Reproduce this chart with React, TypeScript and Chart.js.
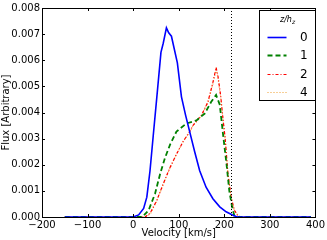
import React, { useEffect, useRef } from "react";
import { Chart, registerables } from "chart.js";

Chart.register(...registerables);

// ---- data ----
const v0 = [-150, 0, 12, 23, 30, 37, 44, 52, 61, 66, 73, 78, 84, 97, 106, 115, 124, 135, 146, 160, 175, 190, 204, 218, 228, 390];
const f0 = [0, 0, 0.00008, 0.00033, 0.00076, 0.00177, 0.0031, 0.0046, 0.0063, 0.00665, 0.00724, 0.00705, 0.00692, 0.0059, 0.0046, 0.0039, 0.00327, 0.0025, 0.00177, 0.00114, 0.0007, 0.00039, 0.0002, 0.00008, 0, 0];

const v1 = [-150, 10, 20, 34, 48, 59, 70, 81, 95, 117, 139, 157, 171, 182, 190, 197, 205, 211, 217, 222, 230, 390];
const f1 = [0, 0, 0, 0.00026, 0.00089, 0.00164, 0.00227, 0.00277, 0.00327, 0.00358, 0.0037, 0.00396, 0.0044, 0.00467, 0.0043, 0.0032, 0.002, 0.001, 0.00039, 0.00005, 0, 0];

const v2 = [-150, 15, 26, 37, 52, 66, 81, 95, 110, 124, 131, 150, 164, 175, 182, 186, 192, 197, 202, 208, 215, 222, 229, 235, 390];
const f2 = [0, 0, 0, 0.00014, 0.00064, 0.00127, 0.0019, 0.0024, 0.0029, 0.00327, 0.0035, 0.0039, 0.0044, 0.00515, 0.00572, 0.0054, 0.00465, 0.00377, 0.003, 0.00165, 0.00076, 0.00026, 0.00008, 0, 0];

const v4 = [-150, 15, 27, 38, 52, 66, 81, 95, 110, 124, 131, 150, 164, 175, 182, 186, 192, 197, 202, 208, 215, 222, 229, 235, 390];
const f4 = [0, 0, 0, 0.00013, 0.00062, 0.00125, 0.00188, 0.0024, 0.0029, 0.00325, 0.00348, 0.00388, 0.00438, 0.0051, 0.00565, 0.00535, 0.0046, 0.00375, 0.00298, 0.00163, 0.00075, 0.00026, 0.00008, 0, 0];

const seriesLabels = ["0", "1", "2", "4"];
const xTicks = [-200, -100, 0, 100, 200, 300, 400];
const yTicks = [0, 0.001, 0.002, 0.003, 0.004, 0.005, 0.006, 0.007, 0.008];
const markerVelocity = 215;
const xTitle = "Velocity [km/s]";
const yTitle = "Flux [Arbitrary]";

const colors = ["#0000ff", "#008000", "#ff0000", "#f0a030"];
const dashes: number[][] = [[], [5, 3], [3, 2, 1, 2], [1, 2]];
const widths = [1.6, 1.8, 1.2, 1.2];

const FONT = "'DejaVu Sans', sans-serif";

function pts(v: number[], f: number[]) {
  return v.map((x, i) => ({ x, y: f[i] }));
}

const decorPlugin = {
  id: "decor",
  afterDatasetsDraw(chart: any) {
    const ctx = chart.ctx as CanvasRenderingContext2D;
    const { left, right, top, bottom } = chart.chartArea;
    const xs = chart.scales.x;
    const ys = chart.scales.y;
    ctx.save();
    // vertical dotted line
    const vx = Math.round(xs.getPixelForValue(markerVelocity)) + 0.5;
    ctx.strokeStyle = "#000";
    ctx.lineWidth = 1;
    ctx.setLineDash([1, 2]);
    ctx.beginPath();
    ctx.moveTo(vx, top);
    ctx.lineTo(vx, bottom);
    ctx.stroke();
    ctx.setLineDash([]);
    // frame
    ctx.strokeStyle = "#000";
    ctx.lineWidth = 1;
    ctx.strokeRect(Math.round(left) + 0.5, Math.round(top) + 0.5, Math.round(right - left), Math.round(bottom - top));
    // inward ticks
    const tl = 3;
    ctx.beginPath();
    xTicks.forEach((t) => {
      const px = Math.round(xs.getPixelForValue(t)) + 0.5;
      ctx.moveTo(px, bottom);
      ctx.lineTo(px, bottom - tl);
      ctx.moveTo(px, top);
      ctx.lineTo(px, top + tl);
    });
    yTicks.forEach((t) => {
      const py = Math.round(ys.getPixelForValue(t)) + 0.5;
      ctx.moveTo(left, py);
      ctx.lineTo(left + tl, py);
      ctx.moveTo(right, py);
      ctx.lineTo(right - tl, py);
    });
    ctx.stroke();
    ctx.restore();
  },
  afterDraw(chart: any) {
    const ctx = chart.ctx as CanvasRenderingContext2D;
    const { left, right, top, bottom } = chart.chartArea;
    ctx.save();
    // axis titles
    ctx.fillStyle = "#000";
    ctx.font = `10px ${FONT}`;
    ctx.textAlign = "center";
    ctx.textBaseline = "middle";
    ctx.fillText(xTitle, (left + right) / 2, 233);
    ctx.save();
    ctx.translate(6, (top + bottom) / 2);
    ctx.rotate(-Math.PI / 2);
    ctx.fillText(yTitle, 0, 0);
    ctx.restore();

    // legend
    const bx = 259.5, by = 10.5, bw = 56, bh = 90;
    ctx.fillStyle = "#fff";
    ctx.fillRect(bx, by, bw, bh);
    ctx.strokeStyle = "#000";
    ctx.lineWidth = 1;
    ctx.strokeRect(bx, by, bw, bh);
    // title z/h_z
    ctx.fillStyle = "#000";
    ctx.textAlign = "left";
    ctx.textBaseline = "alphabetic";
    ctx.font = `italic 8px ${FONT}`;
    const tTxt = "z/h";
    const tw = ctx.measureText(tTxt).width;
    ctx.font = `italic 6px ${FONT}`;
    const sw = ctx.measureText("z").width;
    const tx = bx + bw / 2 - (tw + sw) / 2;
    ctx.font = `italic 8px ${FONT}`;
    ctx.fillText(tTxt, tx, 22);
    ctx.font = `italic 6px ${FONT}`;
    ctx.fillText("z", tx + tw, 24);

    const rows = [37, 55, 73.5, 92];
    seriesLabels.forEach((lab, i) => {
      const y = Math.round(rows[i]) + 0.5;
      ctx.strokeStyle = colors[i];
      ctx.lineWidth = widths[i];
      ctx.setLineDash(dashes[i]);
      ctx.beginPath();
      ctx.moveTo(267.5, y);
      ctx.lineTo(286.5, y);
      ctx.stroke();
      ctx.setLineDash([]);
      ctx.fillStyle = "#000";
      ctx.font = `12px ${FONT}`;
      ctx.textBaseline = "middle";
      ctx.fillText(lab, 300, y);
    });
    ctx.restore();
  },
};

export default function App() {
  const ref = useRef<HTMLCanvasElement | null>(null);
  useEffect(() => {
    if (!ref.current) return;
    const data = [pts(v0, f0), pts(v1, f1), pts(v2, f2), pts(v4, f4)];
    const chart = new Chart(ref.current, {
      type: "line",
      data: {
        datasets: seriesLabels.map((lab, i) => ({
          label: lab,
          data: data[i],
          borderColor: colors[i],
          borderWidth: widths[i],
          borderDash: dashes[i],
          pointRadius: 0,
          fill: false,
          tension: 0,
        })),
      },
      options: {
        responsive: false,
        animation: false,
        devicePixelRatio: 1,
        layout: { padding: { top: 4, right: 9, left: 0, bottom: 0 } },
        plugins: { legend: { display: false }, tooltip: { enabled: false } },
        scales: {
          x: {
            type: "linear",
            min: -200,
            max: 400,
            afterBuildTicks: (s: any) => {
              s.ticks = xTicks.map((v) => ({ value: v }));
            },
            afterFit: (s: any) => {
              s.height = 23;
            },
            grid: { display: false, drawTicks: false },
            border: { display: false },
            ticks: {
              padding: 2,
              color: "#000",
              font: { family: FONT, size: 10 },
              maxRotation: 0,
              autoSkip: false,
              callback: (v: any) => String(v).replace("-", "\u2212"),
            },
          },
          y: {
            type: "linear",
            min: 0,
            max: 0.008,
            afterBuildTicks: (s: any) => {
              s.ticks = yTicks.map((v) => ({ value: v }));
            },
            afterFit: (s: any) => {
              s.width = 42;
            },
            grid: { display: false, drawTicks: false },
            border: { display: false },
            ticks: {
              padding: 2,
              color: "#000",
              font: { family: FONT, size: 10 },
              autoSkip: false,
              callback: (v: any) => Number(v).toFixed(3),
            },
          },
        },
      },
      plugins: [decorPlugin],
    } as any);
    return () => chart.destroy();
  }, []);
  return (
    <div style={{ position: "absolute", left: 0, top: 0, width: 327, height: 240, background: "#fff" }}>
      <canvas ref={ref} width={327} height={240} style={{ display: "block", width: 327, height: 240 }} />
    </div>
  );
}
